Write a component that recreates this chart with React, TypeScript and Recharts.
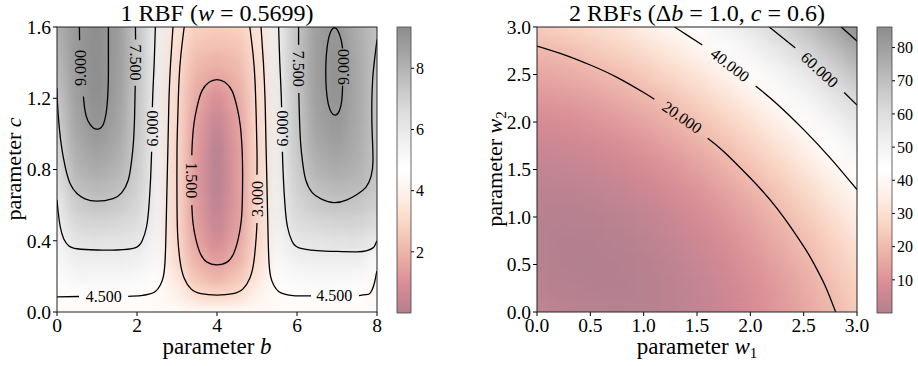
import { ComposedChart, BarChart, Bar, Scatter, XAxis, YAxis } from "recharts";

const FONT = '"Liberation Serif", "DejaVu Serif", serif';

// ---- left panel: 1 RBF, loss over centre b and width c ----
const B_GRID = [0, 0.5, 1, 1.5, 2, 2.5, 3, 3.5, 4, 4.5, 5, 5.5, 6, 6.5, 7, 7.5, 8];
const C_GRID = [0, 0.1, 0.2, 0.3, 0.4, 0.5, 0.6, 0.7, 0.8, 0.9, 1.0, 1.1, 1.2, 1.3, 1.4, 1.5, 1.6];
// one column per b, values going up in c
const LOSS_1RBF = [
  [4.4, 4.55, 4.8, 5.1, 5.4, 5.7, 5.95, 6.2, 6.45, 6.7, 6.95, 7.15, 7.4, 7.6, 7.8, 7.95, 8.1],
  [4.4, 4.6, 5.25, 5.7, 6.2, 6.7, 7.15, 7.6, 7.95, 8.2, 8.4, 8.55, 8.7, 8.8, 8.88, 8.93, 8.96],
  [4.4, 4.6, 5.2, 5.75, 6.25, 6.85, 7.4, 7.85, 8.25, 8.6, 8.93, 9.15, 9.3, 9.35, 9.38, 9.38, 9.35],
  [4.4, 4.6, 5.2, 5.75, 6.2, 6.7, 7.25, 7.65, 8.0, 8.25, 8.45, 8.6, 8.7, 8.78, 8.82, 8.85, 8.85],
  [4.4, 4.55, 5.1, 5.65, 6.1, 6.5, 6.8, 7.0, 7.15, 7.25, 7.33, 7.38, 7.42, 7.45, 7.47, 7.47, 7.46],
  [4.4, 4.48, 4.85, 5.1, 5.3, 5.45, 5.55, 5.6, 5.65, 5.68, 5.7, 5.72, 5.73, 5.73, 5.72, 5.7, 5.68],
  [4.4, 4.0, 3.5, 3.15, 3.02, 2.98, 2.97, 2.97, 2.97, 2.98, 3.0, 3.02, 3.05, 3.08, 3.15, 3.25, 3.4],
  [4.4, 3.15, 2.4, 1.85, 1.58, 1.38, 1.28, 1.24, 1.24, 1.28, 1.36, 1.47, 1.65, 1.9, 2.15, 2.45, 2.75],
  [4.4, 2.95, 1.95, 1.3, 0.8, 0.45, 0.25, 0.12, 0.08, 0.12, 0.28, 0.55, 0.95, 1.47, 1.95, 2.35, 2.7],
  [4.4, 3.15, 2.4, 1.85, 1.58, 1.38, 1.28, 1.24, 1.24, 1.28, 1.36, 1.47, 1.65, 1.9, 2.15, 2.45, 2.75],
  [4.4, 4.0, 3.5, 3.15, 3.02, 2.98, 2.97, 2.97, 2.97, 2.98, 3.0, 3.02, 3.05, 3.08, 3.15, 3.25, 3.4],
  [4.4, 4.48, 4.85, 5.1, 5.3, 5.45, 5.55, 5.6, 5.65, 5.68, 5.7, 5.72, 5.73, 5.73, 5.72, 5.7, 5.68],
  [4.4, 4.55, 5.1, 5.65, 6.1, 6.5, 6.8, 7.0, 7.15, 7.25, 7.33, 7.38, 7.42, 7.45, 7.47, 7.47, 7.46],
  [4.4, 4.6, 5.2, 5.75, 6.2, 6.7, 7.25, 7.65, 8.0, 8.25, 8.45, 8.6, 8.7, 8.78, 8.8, 8.8, 8.75],
  [4.4, 4.6, 5.2, 5.75, 6.25, 6.85, 7.4, 7.85, 8.25, 8.55, 8.82, 9.0, 9.12, 9.17, 9.17, 9.12, 9.0],
  [4.4, 4.6, 5.1, 5.75, 6.3, 6.85, 7.35, 7.75, 8.05, 8.2, 8.3, 8.35, 8.38, 8.38, 8.35, 8.3, 8.2],
  [4.4, 4.25, 4.42, 5.1, 5.95, 6.55, 7.0, 7.3, 7.4, 7.42, 7.42, 7.42, 7.43, 7.45, 7.47, 7.5, 7.52],
];
const B_TICKS = [0, 2, 4, 6, 8];
const C_TICKS = [0, 0.4, 0.8, 1.2, 1.6];
const CB1_TICKS = [2, 4, 6, 8];
const CB1_MAX = 9.35;

// contour segments (b, c), broken where the labels sit
const CONTOURS_1RBF: number[][][] = [
  // 9.0 left
  [[0.56, 1.6], [0.565, 1.525]],
  [[0.66, 1.21], [0.7, 1.13], [0.77, 1.075], [0.9, 1.035], [1.04, 1.027], [1.15, 1.05], [1.23, 1.12], [1.27, 1.22], [1.285, 1.35], [1.285, 1.6]],
  // 7.5 left
  [[1.96, 1.6], [1.965, 1.53]],
  [[1.955, 1.27], [1.94, 1.1], [1.91, 0.95], [1.86, 0.84], [1.78, 0.74], [1.62, 0.67], [1.4, 0.637], [1.0, 0.622], [0.7, 0.635], [0.5, 0.665], [0.33, 0.72], [0.2, 0.82], [0.1, 0.95], [0.04, 1.08], [0.01, 1.18], [0, 1.256]],
  // 6.0 left
  [[2.46, 1.6], [2.43, 1.4], [2.4, 1.25], [2.385, 1.15]],
  [[2.365, 0.9], [2.34, 0.75], [2.3, 0.6], [2.24, 0.48], [2.13, 0.4], [1.95, 0.36], [1.5, 0.348], [1.0, 0.348], [0.5, 0.355], [0.3, 0.37], [0.17, 0.41], [0.08, 0.48], [0.03, 0.56], [0, 0.63]],
  // 4.5 left
  [[0, 0.085], [0.55, 0.087]],
  [[1.78, 0.088], [2.1, 0.092], [2.3, 0.1], [2.46, 0.115], [2.58, 0.15], [2.66, 0.2], [2.7, 0.28], [2.72, 0.4], [2.74, 0.6], [2.76, 0.8], [2.78, 1.0], [2.8, 1.2], [2.84, 1.4], [2.9, 1.6]],
  // 3.0
  [[3.18, 1.6], [3.1, 1.45], [3.05, 1.3], [3.02, 1.1], [3.0, 0.9], [3.0, 0.6], [3.02, 0.42], [3.08, 0.28], [3.18, 0.19], [3.35, 0.13], [3.6, 0.103], [4.0, 0.095], [4.4, 0.103], [4.65, 0.13], [4.82, 0.19], [4.92, 0.28], [4.98, 0.42], [5.0, 0.5]],
  [[5.0, 0.77], [5.0, 0.9], [4.98, 1.1], [4.95, 1.3], [4.9, 1.45], [4.82, 1.6]],
  // 1.5
  [[3.37, 0.6], [3.4, 0.5], [3.47, 0.41], [3.58, 0.33], [3.75, 0.28], [4.0, 0.265], [4.25, 0.28], [4.42, 0.33], [4.53, 0.41], [4.6, 0.5], [4.63, 0.6], [4.64, 0.75], [4.63, 0.9], [4.58, 1.05], [4.5, 1.15], [4.38, 1.24], [4.2, 1.29], [4.0, 1.305], [3.8, 1.29], [3.62, 1.24], [3.5, 1.15], [3.42, 1.05], [3.38, 0.94], [3.37, 0.88]],
  // 6.0 right
  [[5.54, 1.6], [5.57, 1.4], [5.6, 1.25], [5.615, 1.15]],
  [[5.635, 0.9], [5.66, 0.75], [5.7, 0.6], [5.76, 0.48], [5.87, 0.4], [6.05, 0.36], [6.5, 0.345], [7.0, 0.34], [7.5, 0.338], [7.75, 0.345], [7.9, 0.36], [7.96, 0.38], [8.0, 0.4]],
  // 7.5 right
  [[6.04, 1.6], [6.04, 1.5]],
  [[6.045, 1.23], [6.06, 1.1], [6.09, 0.95], [6.14, 0.84], [6.22, 0.74], [6.38, 0.67], [6.6, 0.635], [6.92, 0.614], [7.25, 0.63], [7.5, 0.66], [7.72, 0.7], [7.85, 0.76], [7.9, 0.85], [7.88, 1.0], [7.87, 1.15], [7.89, 1.3], [7.94, 1.42], [8.0, 1.53]],
  // 9.0 right
  [[7.14, 1.27], [7.12, 1.19], [7.06, 1.13], [6.96, 1.105], [6.86, 1.12], [6.78, 1.17], [6.73, 1.26], [6.72, 1.38], [6.75, 1.48], [6.82, 1.56], [6.92, 1.595], [7.02, 1.58], [7.1, 1.53], [7.14, 1.48]],
  // 4.5 right
  [[5.1, 1.6], [5.16, 1.4], [5.2, 1.2], [5.22, 1.0], [5.24, 0.8], [5.26, 0.6], [5.28, 0.4], [5.3, 0.28], [5.34, 0.2], [5.42, 0.15], [5.54, 0.115], [5.7, 0.1], [5.9, 0.092], [6.35, 0.09]],
  [[7.55, 0.092], [7.72, 0.097], [7.83, 0.106], [7.92, 0.15], [7.97, 0.2], [8.0, 0.23]],
];
const LABELS_1RBF = [
  { x: 1.17, y: 0.087, text: "4.500", rot: 0 },
  { x: 6.93, y: 0.09, text: "4.500", rot: 0 },
  { x: 2.375, y: 1.03, text: "6.000", rot: -90 },
  { x: 5.625, y: 1.03, text: "6.000", rot: -90 },
  { x: 1.96, y: 1.4, text: "7.500", rot: 90 },
  { x: 6.04, y: 1.365, text: "7.500", rot: 90 },
  { x: 0.58, y: 1.37, text: "9.000", rot: -90 },
  { x: 7.15, y: 1.375, text: "9.000", rot: -90 },
  { x: 3.37, y: 0.74, text: "1.500", rot: 90 },
  { x: 5.0, y: 0.635, text: "3.000", rot: -90 },
];

// ---- right panel: 2 RBFs, loss over weights w1, w2 ----
const W_GRID = [0, 0.25, 0.5, 0.75, 1, 1.25, 1.5, 1.75, 2, 2.25, 2.5, 2.75, 3];
// one row per w2, values going right in w1
const LOSS_2RBF = [
  [3.6, 2.1, 1.2, 0.9, 1.2, 2.0, 3.4, 5.4, 8.0, 11.1, 14.8, 19.1, 24.0],
  [2.1, 0.9, 0.3, 0.3, 0.8, 2.0, 3.7, 5.9, 8.8, 12.2, 16.2, 20.7, 25.9],
  [1.2, 0.3, 0.0, 0.3, 1.1, 2.5, 4.5, 7.0, 10.1, 13.8, 18.1, 23.0, 28.4],
  [0.9, 0.3, 0.3, 0.8, 1.9, 3.6, 5.8, 8.7, 12.1, 16.1, 20.6, 25.7, 31.4],
  [1.2, 0.8, 1.1, 1.9, 3.3, 5.3, 7.8, 10.9, 14.6, 18.9, 23.7, 29.1, 35.1],
  [2.0, 2.0, 2.5, 3.6, 5.3, 7.5, 10.3, 13.7, 17.7, 22.2, 27.4, 33.1, 39.3],
  [3.4, 3.7, 4.5, 5.8, 7.8, 10.3, 13.4, 17.1, 21.4, 26.2, 31.6, 37.6, 44.1],
  [5.4, 5.9, 7.0, 8.7, 10.9, 13.7, 17.1, 21.1, 25.6, 30.7, 36.4, 42.7, 49.5],
  [8.0, 8.8, 10.1, 12.1, 14.6, 17.7, 21.4, 25.6, 30.4, 35.8, 41.8, 48.3, 55.4],
  [11.1, 12.2, 13.8, 16.1, 18.9, 22.2, 26.2, 30.7, 35.8, 41.5, 47.7, 54.6, 61.9],
  [14.8, 16.2, 18.1, 20.6, 23.7, 27.4, 31.6, 36.4, 41.8, 47.7, 54.3, 61.4, 69.0],
  [19.1, 20.7, 23.0, 25.7, 29.1, 33.1, 37.6, 42.7, 48.3, 54.6, 61.4, 68.7, 76.7],
  [24.0, 25.9, 28.4, 31.4, 35.1, 39.3, 44.1, 49.5, 55.4, 61.9, 69.0, 76.7, 84.9],
];
const W_TICKS = [0, 0.5, 1, 1.5, 2, 2.5, 3];
const CB2_TICKS = [10, 20, 30, 40, 50, 60, 70, 80];
const CB2_MAX = 86.2;

const CONTOURS_2RBF: number[][][] = [
  // 20
  [[0, 2.8], [0.25, 2.71], [0.5, 2.6], [0.75, 2.47], [1.0, 2.31], [1.1, 2.24]],
  [[1.6, 1.83], [1.75, 1.69], [2.0, 1.41], [2.25, 1.09], [2.5, 0.69], [2.6, 0.5], [2.7, 0.28], [2.8, 0.0]],
  // 40
  [[1.288, 3.0], [1.4, 2.92], [1.55, 2.81]],
  [[2.05, 2.38], [2.25, 2.19], [2.5, 1.92], [2.75, 1.62], [3.0, 1.288]],
  // 60
  [[2.178, 3.0], [2.3, 2.89], [2.42, 2.78]],
  [[2.88, 2.31], [3.0, 2.178]],
  // 80
  [[2.852, 3.0], [2.926, 2.926], [3.0, 2.852]],
];
const LABELS_2RBF = [
  { x: 1.36, y: 2.05, text: "20.000", rot: 35 },
  { x: 1.81, y: 2.6, text: "40.000", rot: 38 },
  { x: 2.65, y: 2.55, text: "60.000", rot: 43 },
];

// RdGy colour map, drawn at half alpha on white
const RDGY = ["#67001f", "#b2182b", "#d6604d", "#f4a582", "#fddbc7", "#ffffff", "#e0e0e0", "#bababa", "#878787", "#4d4d4d", "#1a1a1a"];
const hex = (h: string) => [1, 3, 5].map((i) => parseInt(h.slice(i, i + 2), 16));
function shade(t: number) {
  const s = Math.max(0, Math.min(1, t)) * 10;
  const i = Math.min(9, Math.floor(s));
  const f = s - i;
  const a = hex(RDGY[i]);
  const b = hex(RDGY[i + 1]);
  const rgb = a.map((v, k) => Math.round(0.5 * (v + (b[k] - v) * f) + 0.5 * 255));
  return `rgb(${rgb.join(",")})`;
}

const heat1 = B_GRID.flatMap((b, i) => C_GRID.map((c, j) => ({ x: b, y: c, v: LOSS_1RBF[i][j] })));
const heat2 = W_GRID.flatMap((w2, j) => W_GRID.map((w1, i) => ({ x: w1, y: w2, v: LOSS_2RBF[j][i] })));

const PW = 320;
const PH = 285;

const cell = (w: number, h: number, vmax: number) => (p: any) => {
  const v = p.payload?.v ?? p.v;
  return <rect x={p.cx - w / 2} y={p.cy - h / 2} width={w + 0.6} height={h + 0.6} fill={shade(v / vmax)} />;
};

const noDot = () => <g />;

const labelShape = (p: any) => {
  const d = p.payload ?? p;
  return (
    <text
      x={p.cx}
      y={p.cy}
      transform={`rotate(${d.rot} ${p.cx} ${p.cy})`}
      textAnchor="middle"
      dominantBaseline="central"
      fontFamily={FONT}
      fontSize={16}
      fill="#000"
    >
      {d.text}
    </text>
  );
};

const tickStyle = { fill: "#000", fontSize: 19.5, fontFamily: FONT };

function Panel({ heat, vmax, cols, rows, contours, labels, xTicks, yTicks, xMax, yMax, fmt, cls, left, width, mLeft }: any) {
  return (
    <div style={{ position: "absolute", left, top: 0 }}>
      <ComposedChart width={width} height={366} margin={{ top: 27, right: width - mLeft - 40 - PW, bottom: 24, left: mLeft }}>
        <XAxis type="number" dataKey="x" domain={[0, xMax]} ticks={xTicks} height={30} allowDataOverflow axisLine={false}
          tickLine={{ stroke: "#000" }} tickSize={4} tickMargin={2} tick={tickStyle} tickFormatter={fmt} interval={0} />
        <YAxis type="number" dataKey="y" domain={[0, yMax]} ticks={yTicks} width={40} allowDataOverflow axisLine={false}
          tickLine={{ stroke: "#000" }} tickSize={4} tickMargin={2} tick={tickStyle} tickFormatter={(v: number) => v.toFixed(1)} interval={0} />
        <Scatter className={cls} data={heat} shape={cell(PW / (cols - 1), PH / (rows - 1), vmax)} isAnimationActive={false} />
        {contours.map((seg: number[][], k: number) => (
          <Scatter key={k} data={seg.map(([x, y]) => ({ x, y }))} line={{ stroke: "#000", strokeWidth: 1.3, fill: "none" }}
            lineType="joint" lineJointType="natural" shape={noDot} isAnimationActive={false} />
        ))}
        <Scatter data={labels} shape={labelShape} isAnimationActive={false} />
      </ComposedChart>
    </div>
  );
}

function ColorBar({ left, width, vmax, ticks }: any) {
  return (
    <div style={{ position: "absolute", left, top: 0 }}>
      <BarChart width={60} height={366} data={[{ k: "cb", v: vmax }]} barCategoryGap={0}
        margin={{ top: 27, right: 60 - 17 - width - 40, bottom: 23, left: 17 }}>
        <XAxis dataKey="k" type="category" tick={false} axisLine={false} tickLine={false} height={30} />
        <YAxis type="number" orientation="right" domain={[0, vmax]} ticks={ticks} width={40} axisLine={false} allowDataOverflow
          tickLine={{ stroke: "#000" }} tickSize={3} tickMargin={2} tick={{ fill: "#000", fontSize: 16, fontFamily: FONT }} interval={0} />
        <Bar dataKey="v" fill="url(#cbGrad)" isAnimationActive={false} />
      </BarChart>
    </div>
  );
}

export default function App() {
  const stops = RDGY.map((_, i) => i / 10);
  return (
    <div style={{ position: "absolute", left: 0, top: 0, width: 918, height: 366, background: "#fff", overflow: "hidden", fontFamily: FONT }}>
      <style>{`.heat-l{filter:url(#blurL);clip-path:url(#clipL);} .heat-r{filter:url(#blurR);clip-path:url(#clipR);}
        .recharts-text, .recharts-cartesian-axis-tick-value, svg text { font-family: "Liberation Serif", "DejaVu Serif", serif !important; }`}</style>
      <svg width={0} height={0} style={{ position: "absolute" }}>
        <defs>
          <filter id="blurL" colorInterpolationFilters="sRGB">
            <feGaussianBlur stdDeviation="7 6" />
            <feComponentTransfer>
              <feFuncA type="table" tableValues="1 1" />
            </feComponentTransfer>
          </filter>
          <filter id="blurR" colorInterpolationFilters="sRGB">
            <feGaussianBlur stdDeviation="10 9" />
            <feComponentTransfer>
              <feFuncA type="table" tableValues="1 1" />
            </feComponentTransfer>
          </filter>
          <clipPath id="clipL" clipPathUnits="userSpaceOnUse">
            <rect x={57} y={27} width={PW} height={PH} />
          </clipPath>
          <clipPath id="clipR" clipPathUnits="userSpaceOnUse">
            <rect x={77} y={27} width={PW} height={PH} />
          </clipPath>
          <linearGradient id="cbGrad" x1="0" y1="1" x2="0" y2="0">
            {stops.map((t) => (
              <stop key={t} offset={t} stopColor={shade(t)} />
            ))}
          </linearGradient>
        </defs>
      </svg>

      <Panel heat={heat1} vmax={CB1_MAX} cols={B_GRID.length} rows={C_GRID.length} contours={CONTOURS_1RBF} labels={LABELS_1RBF}
        xTicks={B_TICKS} yTicks={C_TICKS} xMax={8} yMax={1.6} fmt={(v: number) => String(v)} cls="heat-l" left={0} width={460} mLeft={17} />
      <ColorBar left={380} width={14} vmax={CB1_MAX} ticks={CB1_TICKS} />

      <Panel heat={heat2} vmax={CB2_MAX} cols={W_GRID.length} rows={W_GRID.length} contours={CONTOURS_2RBF} labels={LABELS_2RBF}
        xTicks={W_TICKS} yTicks={W_TICKS} xMax={3} yMax={3} fmt={(v: number) => v.toFixed(1)} cls="heat-r" left={460} width={458} mLeft={37} />
      <ColorBar left={860} width={15} vmax={CB2_MAX} ticks={CB2_TICKS} />

      <svg width={918} height={366} style={{ position: "absolute", left: 0, top: 0, pointerEvents: "none" }} fontFamily={FONT} fill="#000">
        <rect x={57} y={27} width={PW} height={PH} fill="none" stroke="#222" strokeWidth={1} />
        <rect x={537} y={27} width={PW} height={PH} fill="none" stroke="#222" strokeWidth={1} />
        <rect x={397} y={27} width={14} height={286} fill="none" stroke="#444" strokeWidth={0.8} />
        <rect x={877} y={27} width={15} height={286} fill="none" stroke="#444" strokeWidth={0.8} />

        <text x={217} y={21} fontSize={24} textAnchor="middle">
          1 RBF (<tspan fontStyle="italic">w</tspan> = 0.5699)
        </text>
        <text x={697} y={21} fontSize={24} textAnchor="middle">
          2 RBFs (Δ<tspan fontStyle="italic">b</tspan> = 1.0, <tspan fontStyle="italic">c</tspan> = 0.6)
        </text>
        <text x={217} y={354} fontSize={23} textAnchor="middle">
          parameter <tspan fontStyle="italic">b</tspan>
        </text>
        <text x={697} y={354} fontSize={23} textAnchor="middle">
          parameter <tspan fontStyle="italic">w</tspan><tspan fontSize={15} dy={4}>1</tspan>
        </text>
        <text x={21} y={169} fontSize={22} textAnchor="middle" transform="rotate(-90 21 169)">
          parameter <tspan fontStyle="italic">c</tspan>
        </text>
        <text x={502} y={169} fontSize={22} textAnchor="middle" transform="rotate(-90 502 169)">
          parameter <tspan fontStyle="italic">w</tspan><tspan fontSize={15} dy={4}>2</tspan>
        </text>
      </svg>
    </div>
  );
}
